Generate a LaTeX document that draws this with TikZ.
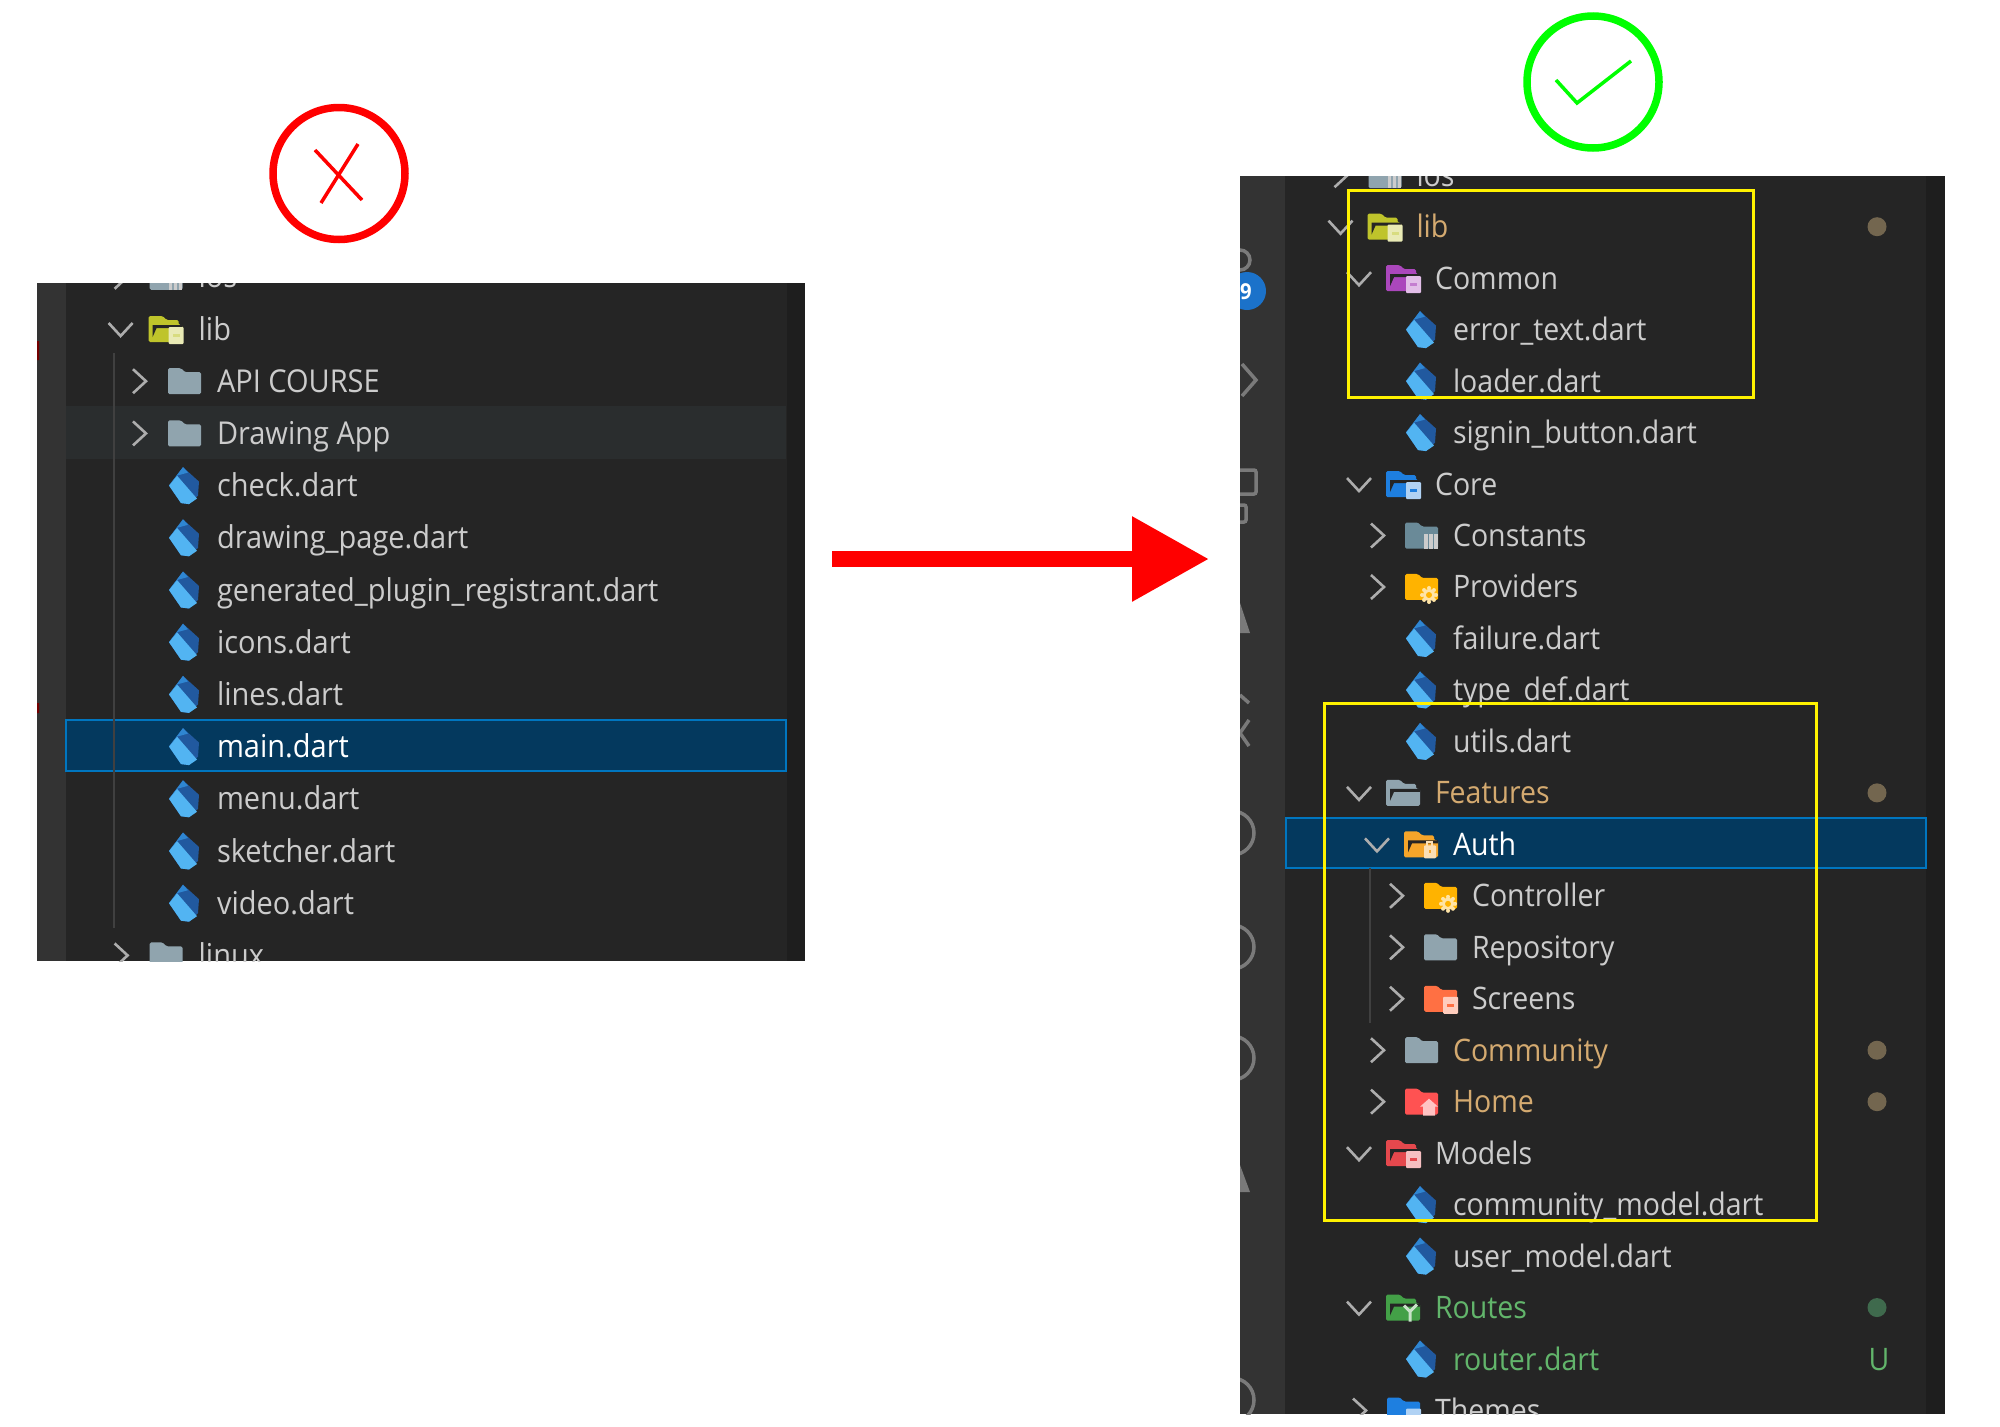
\documentclass[tikz,border=0pt]{standalone}
\usepackage{fontspec}
\setmainfont[FakeStretch=0.92]{Open Sans}
\usetikzlibrary{arrows.meta}
\definecolor{panelbg}{HTML}{252525}
\definecolor{sidebg}{HTML}{333333}
\definecolor{stripbg}{HTML}{1E1E1E}
\definecolor{hoverbg}{HTML}{2A2D2E}
\definecolor{selectbg}{HTML}{04395E}
\definecolor{selectline}{HTML}{0076C0}
\definecolor{guideline}{HTML}{404040}
\definecolor{rowgrey}{HTML}{CCCCCC}
\definecolor{rowgold}{HTML}{D4AA70}
\definecolor{rowgreen}{HTML}{62B56B}
\definecolor{dotgold}{HTML}{73664F}
\definecolor{dotgreen}{HTML}{3F6A4D}
\definecolor{glyphgrey}{HTML}{7A7A7A}
\definecolor{dartdark}{HTML}{21599F}
\definecolor{dartmid}{HTML}{2F86D2}
\definecolor{dartlight}{HTML}{52B4F2}
\definecolor{dirgrey}{HTML}{90A4AE}
\definecolor{dirslate}{HTML}{6A8A98}
\definecolor{dirlime}{HTML}{BFC42B}
\definecolor{dirpurple}{HTML}{AB47BC}
\definecolor{dirblue}{HTML}{1E7FE0}
\definecolor{diryellow}{HTML}{FFB300}
\definecolor{dirorange}{HTML}{F5A52A}
\definecolor{dirtomato}{HTML}{FF7043}
\definecolor{dirred}{HTML}{FF5252}
\definecolor{dirbrick}{HTML}{E5484D}
\definecolor{dirgreen}{HTML}{43A047}
\def\rowsize{31}
\tikzset{
  x=1pt,y=-1pt,
  rowtext/.style={anchor=base west,inner sep=0pt,outer sep=0pt,text=rowgrey,font=\fontsize{\rowsize}{32}\selectfont},
  box/.style={rectangle,anchor=north west,inner sep=0pt,outer sep=0pt},
  markring/.style={circle,inner sep=0pt,minimum size=132pt,line width=7.5pt},
  markline/.style={line width=3.5pt},
  statusdot/.style={circle,inner sep=0pt,minimum size=19pt},
  chevline/.style={draw=rowgrey!85!black,line width=2.6pt},
  glyph/.style={draw=glyphgrey,line width=3.5pt},
  pics/chevdown/.style={code={\draw[chevline] (-12,-6) -- (0,7) -- (12,-6);}},
  pics/chevside/.style={code={\draw[chevline] (-6,-12) -- (7,0) -- (-6,12);}},
  pics/dartleaf/.style={code={
    \fill[dartdark] (-1,-18.5) -- (15,-4) -- (14,10) -- (5,18.5) -- (-3,17.5) -- (-15,0) -- cycle;
    \fill[dartlight] (-15,0) -- (-7,-10) -- (13,13) -- (5,18.5) -- (-3,17.5) -- cycle;
    \fill[dartmid] (-15,0) -- (-1,-18.5) -- (4,-13) -- (-7,-10) -- cycle;
  }},
  pics/dirshut/.style={code={
    \fill[#1,rounded corners=1.5pt] (-16,13) -- (-16,-13) -- (-3,-13) -- (1,-9) -- (17,-9) -- (17,13) -- cycle;
  }},
  pics/diropen/.style={code={
    \fill[#1,rounded corners=1.5pt] (-17,13) -- (-17,-13) -- (-3,-13) -- (1,-9) -- (13,-9) -- (13,-4) -- (17,-4) -- (17,13) -- cycle;
    \fill[panelbg] (-13,-4) -- (17,-4) -- (17,-1) -- (-9,-1) -- (-13,8) -- cycle;
  }},
  pics/gearmark/.style={code={
    \foreach \a in {0,45,...,315} \fill[#1!35!white] (8,8) ++(\a:7) circle (2pt);
    \fill[#1!35!white] (8,8) circle (6pt);
    \fill[#1] (8,8) circle (3pt);
  }},
  pics/cardmark/.style 2 args={code={
    \fill[#1!35!white,rounded corners=1pt] (3,-2) rectangle (18,15);
    \fill[#2] (7,5) rectangle (14,8);
  }},
  pics/barsmark/.style={code={
    \foreach \a in {3,8,13} \fill[#1] (\a,-2) rectangle ++(3.5,15);
  }},
  pics/lockmark/.style={code={
    \draw[#1,line width=2pt] (6,2) -- (6,-2) -- (11,-2) -- (11,2);
    \fill[#1,rounded corners=1pt] (3,1) rectangle (15,14);
    \fill[dirorange] (8,6) rectangle (10,9);
  }},
  pics/housemark/.style={code={
    \fill[#1] (-1,5) -- (8,-3) -- (17,5) -- (14,5) -- (14,14) -- (2,14) -- (2,5) -- cycle;
  }},
  pics/forkmark/.style={code={
    \draw[#1,line width=3pt] (7,14) -- (7,4) -- (1,-2) (7,4) -- (14,-3);
  }},
}
\def\rowtop{0}
\def\rowh{0}
\def\chevgap{78}
\def\icongap{33}
\newcommand{\dirrow}[7]{
  \pic at ({#2-\chevgap},{\rowtop+\rowh*#3}) {#4};
  \begin{scope}[shift={({#2-\icongap},{\rowtop+\rowh*#3})}] #5 \end{scope}
  \node[rowtext,text=#7] (#1) at (#2,{\rowtop+\rowh*#3+11}) {#6};
}
\newcommand{\filerow}[5]{
  \pic at ({#2-\icongap},{\rowtop+\rowh*#3}) {dartleaf};
  \node[rowtext,text=#5] (#1) at (#2,{\rowtop+\rowh*#3+11}) {#4};
}
\begin{document}
\begin{tikzpicture}
  \useasboundingbox (0,0) rectangle (2000,1427);

  \node[markring,draw=red] (crossring) at (339,173.5) {};
  \draw[markline,red] (315,150) -- (362,200) (358,144) -- (321,203);
  \node[markring,draw=green] (tickring) at (1593,82) {};
  \draw[markline,green] (1556,80) -- (1577,103) -- (1631,61);

  \coordinate (arrowtail) at (832,559);
  \coordinate (arrowtip) at (1209,559);
  \draw[red,line width=16pt,-{Triangle[length=77pt,width=81pt]}] (arrowtail) -- (arrowtip);

  \node[box,fill=panelbg,minimum width=768pt,minimum height=678pt] (leftpanel) at (37,283) {};
  \begin{scope}
    \clip (leftpanel.north west) rectangle (leftpanel.south east);
    \fill[sidebg] (37,283) rectangle (66,961);
    \fill[stripbg] (787,283) rectangle (805,961);
    \fill[red!45!black] (37,341) rectangle (39,360) (37,703) rectangle (39,713);
    \fill[hoverbg] (66,406) rectangle (786,459);
    \node[box,fill=selectbg,draw=selectline,line width=2.5pt,minimum width=720pt,minimum height=51pt] (mainrow) at (66,720) {};
    \draw[guideline,line width=1.5pt] (114,353) -- (114,928);
    \def\rowtop{329}\def\rowh{52.2}\def\rowsize{31.5}
    \dirrow{lios}{198.6}{-1}{chevside}{\pic {dirshut=dirgrey}; \pic {barsmark=rowgrey};}{ios}{rowgrey}
    \dirrow{llib}{198.6}{0}{chevdown}{\pic {diropen=dirlime}; \pic {cardmark={dirlime}{dirlime!60!white}};}{lib}{rowgrey}
    \dirrow{lapi}{217}{1}{chevside}{\pic {dirshut=dirgrey};}{API COURSE}{rowgrey}
    \dirrow{ldraw}{217}{2}{chevside}{\pic {dirshut=dirgrey};}{Drawing App}{rowgrey}
    \foreach \n/\i/\txt in {lcheck/3/check.dart,lpage/4/drawing\_page.dart,lplugin/5/generated\_plugin\_registrant.dart,licons/6/icons.dart,llines/7/lines.dart,lmenu/9/menu.dart,lsketch/10/sketcher.dart,lvideo/11/video.dart}
      \filerow{\n}{217}{\i}{\txt}{rowgrey};
    \filerow{lmain}{217}{8}{main.dart}{white}
    \dirrow{llinux}{198.6}{12}{chevside}{\pic {dirshut=dirgrey};}{linux}{rowgrey}
  \end{scope}

  \node[box,fill=panelbg,minimum width=705pt,minimum height=1238pt] (rightpanel) at (1240,176) {};
  \begin{scope}
    \clip (rightpanel.north west) rectangle (rightpanel.south east);
    \fill[sidebg] (1240,176) rectangle (1285,1414);
    \fill[stripbg] (1926,176) rectangle (1945,1414);
    \draw[glyph] (1240,260) circle (10pt);
    \node[circle,fill=dirblue!90!black,inner sep=0pt,minimum size=38pt] (countbadge) at (1247,291) {};
    \node[text=white,inner sep=0pt,font=\fontsize{22}{24}\selectfont\bfseries] (countnum) at (1246,292) {9};
    \draw[glyph] (1242,364) -- (1256,380) -- (1242,396);
    \draw[glyph,rounded corners=2pt] (1236,470) rectangle (1256,494);
    \draw[glyph,rounded corners=2pt] (1236,505) rectangle (1246,522);
    \fill[glyphgrey] (1240,603) -- (1250,633) -- (1240,633) -- cycle;
    \draw[glyph] (1240,695) -- (1249,703) (1249,720) -- (1240,733) -- (1249,746);
    \draw[glyph] (1232,833) circle (22pt) (1232,947) circle (22pt) (1232,1058) circle (22pt);
    \fill[glyphgrey] (1240,1165) -- (1250,1192) -- (1240,1192) -- cycle;
    \draw[glyph] (1232,1400) circle (22pt);
    \node[box,fill=selectbg,draw=selectline,line width=2.5pt,minimum width=640pt,minimum height=50pt] (authrow) at (1286,818) {};
    \draw[guideline,line width=2pt] (1370,868) -- (1370,1023);
    \def\rowtop{226.7}\def\rowh{51.47}\def\chevgap{76}\def\icongap{32}
    \dirrow{rios}{1416.5}{-1}{chevside}{\pic {dirshut=dirgrey}; \pic {barsmark=rowgrey};}{ios}{rowgrey}
    \dirrow{rlib}{1416.5}{0}{chevdown}{\pic {diropen=dirlime}; \pic {cardmark={dirlime}{dirlime!60!white}};}{lib}{rowgold}
    \dirrow{rcommon}{1435}{1}{chevdown}{\pic {diropen=dirpurple}; \pic {cardmark={dirpurple}{dirpurple!70!white}};}{Common}{rowgrey}
    \filerow{rerror}{1453}{2}{error\_text.dart}{rowgrey}
    \filerow{rloader}{1453}{3}{loader.dart}{rowgrey}
    \filerow{rsignin}{1453}{4}{signin\_button.dart}{rowgrey}
    \dirrow{rcore}{1435}{5}{chevdown}{\pic {diropen=dirblue}; \pic {cardmark={dirblue}{dirblue}};}{Core}{rowgrey}
    \dirrow{rconst}{1453}{6}{chevside}{\pic {dirshut=dirslate}; \pic {barsmark=rowgrey};}{Constants}{rowgrey}
    \dirrow{rprov}{1453}{7}{chevside}{\pic {dirshut=diryellow}; \pic {gearmark=diryellow};}{Providers}{rowgrey}
    \filerow{rfail}{1453}{8}{failure.dart}{rowgrey}
    \filerow{rtype}{1453}{9}{type\_def.dart}{rowgrey}
    \filerow{rutils}{1453}{10}{utils.dart}{rowgrey}
    \dirrow{rfeat}{1435}{11}{chevdown}{\pic {diropen=dirgrey};}{Features}{rowgold}
    \dirrow{rauth}{1453}{12}{chevdown}{\pic {diropen=dirorange}; \pic {lockmark=dirorange!35!white};}{Auth}{white}
    \dirrow{rctrl}{1472}{13}{chevside}{\pic {dirshut=diryellow}; \pic {gearmark=diryellow};}{Controller}{rowgrey}
    \dirrow{rrepo}{1472}{14}{chevside}{\pic {dirshut=dirgrey};}{Repository}{rowgrey}
    \dirrow{rscreen}{1472}{15}{chevside}{\pic {dirshut=dirtomato}; \pic {cardmark={dirtomato}{dirtomato}};}{Screens}{rowgrey}
    \dirrow{rcomm}{1453}{16}{chevside}{\pic {dirshut=dirgrey};}{Community}{rowgold}
    \dirrow{rhome}{1453}{17}{chevside}{\pic {dirshut=dirred}; \pic {housemark=dirred!35!white};}{Home}{rowgold}
    \dirrow{rmodels}{1435}{18}{chevdown}{\pic {diropen=dirbrick}; \pic {cardmark={dirbrick}{dirbrick}};}{Models}{rowgrey}
    \filerow{rcmodel}{1453}{19}{community\_model.dart}{rowgrey}
    \filerow{rumodel}{1453}{20}{user\_model.dart}{rowgrey}
    \dirrow{rroutes}{1435}{21}{chevdown}{\pic {diropen=dirgreen}; \pic {forkmark=dirgreen!30!white};}{Routes}{rowgreen}
    \filerow{rrouter}{1453}{22}{router.dart}{rowgreen}
    \dirrow{rthemes}{1435}{23}{chevside}{\pic {dirshut=dirblue}; \pic {cardmark={dirblue}{dirblue}};}{Themes}{rowgrey}
    \foreach \i/\c in {0/dotgold,11/dotgold,16/dotgold,17/dotgold,21/dotgreen}
      \node[statusdot,fill=\c] (dot\i) at (1877,{\rowtop+\rowh*\i}) {};
    \node[rowtext,text=rowgreen,anchor=base] (gitmark) at (1879,{\rowtop+\rowh*22+11}) {U};
  \end{scope}

  \node[box,draw=yellow,line width=3pt,minimum width=405pt,minimum height=207pt] (topzone) at (1348,190) {};
  \node[box,draw=yellow,line width=3pt,minimum width=492pt,minimum height=517pt] (lowzone) at (1324.5,703) {};
\end{tikzpicture}
\end{document}
